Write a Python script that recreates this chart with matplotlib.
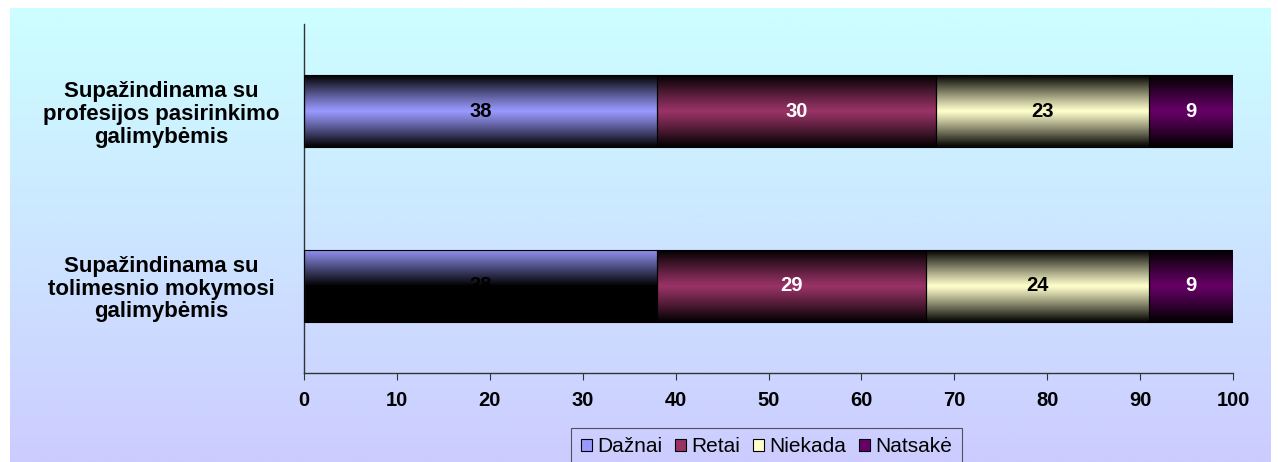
import numpy as np
import matplotlib.pyplot as plt
from matplotlib.colors import to_rgb
from matplotlib.patches import Patch

plt.rcParams['font.family'] = ['Liberation Sans', 'DejaVu Sans']

categories = ['Supažindinama su\nprofesijos pasirinkimo\ngalimybėmis',
              'Supažindinama su\ntolimesnio mokymosi\ngalimybėmis']
series = ['Dažnai', 'Retai', 'Niekada', 'Natsakė']
daznai = [38, 38]
retai = [30, 29]
niekada = [23, 24]
natsake = [9, 9]
values = [daznai, retai, niekada, natsake]
colors = ['#9999ff', '#993366', '#ffffcc', '#660066']
label_colors = ['black', 'white', 'black', 'white']
xticks = list(range(0, 101, 10))
# the bottom "Dažnai" bar is rendered half black in the original
glitch = [(1, 0)]

W, H = 1278, 462
fig = plt.figure(figsize=(W / 100, H / 100), dpi=100)
fig.patch.set_facecolor('white')

# gradient background
bg = fig.add_axes([10 / W, 0, 1261 / W, 1 - 8 / H], zorder=0)
g = np.linspace(0, 1, 256)[:, None, None]
top = np.array(to_rgb('#ccffff'))
bot = np.array(to_rgb('#ccccff'))
bg.imshow(top + (bot - top) * g, aspect='auto', extent=[0, 1, 0, 1])
bg.axis('off')

ax = fig.add_axes([304 / W, 1 - 373 / H, 929 / W, 349 / H], zorder=1)
ax.patch.set_alpha(0)

ypos = np.arange(len(categories))[::-1]
left = np.zeros(len(categories))
t = np.linspace(-1, 1, 200)
for i, (vals, c) in enumerate(zip(values, colors)):
    bars = ax.barh(ypos, vals, left=left, height=0.41, facecolor='none',
                   edgecolor='black', linewidth=0.8, zorder=3)
    for j, b in enumerate(bars):
        x0, y0, w, h = b.get_x(), b.get_y(), b.get_width(), b.get_height()
        shade = np.clip(1 - np.abs(t) ** 1.1, 0.04, 1)
        if (j, i) in glitch:
            shade = np.clip(-t, 0, 1) * 0.95
        img = np.array(to_rgb(c))[None, None, :] * shade[:, None, None]
        ax.imshow(img, extent=[x0, x0 + w, y0, y0 + h], aspect='auto',
                  interpolation='bilinear', zorder=2)
        ax.text(x0 + w / 2, ypos[j], str(vals[j]), ha='center', va='center',
                color=label_colors[i], fontsize=14.5, fontweight='bold', zorder=4)
    left += np.array(vals)

ax.set_xlim(0, 100)
ax.set_ylim(-0.5, 1.5)
ax.set_xticks(xticks)
ax.set_xticklabels([str(v) for v in xticks], fontsize=14.5, fontweight='bold')
ax.set_yticks(ypos)
ax.set_yticklabels(categories, fontsize=16, fontweight='bold', ha='center',
                   linespacing=1.1)
ax.tick_params(axis='y', length=0, pad=103)
ax.tick_params(axis='x', length=5, color='#333333', pad=8)
for s in ['top', 'right']:
    ax.spines[s].set_visible(False)
for s in ['left', 'bottom']:
    ax.spines[s].set_color('#333333')
    ax.spines[s].set_linewidth(1)

handles = [Patch(facecolor=c, edgecolor='black', linewidth=0.8) for c in colors]
leg = fig.legend(handles, series, loc='upper center',
                 bbox_to_anchor=(766.5 / W, 1 - 428 / H), ncol=4,
                 fontsize=15, frameon=True, fancybox=False, edgecolor='#333333',
                 handlelength=0.55, handleheight=0.55, handletextpad=0.25,
                 columnspacing=0.6, borderpad=0.45, borderaxespad=0)
leg.get_frame().set_facecolor('none')
leg.get_frame().set_linewidth(0.8)

fig.savefig('out.png', dpi=100)
